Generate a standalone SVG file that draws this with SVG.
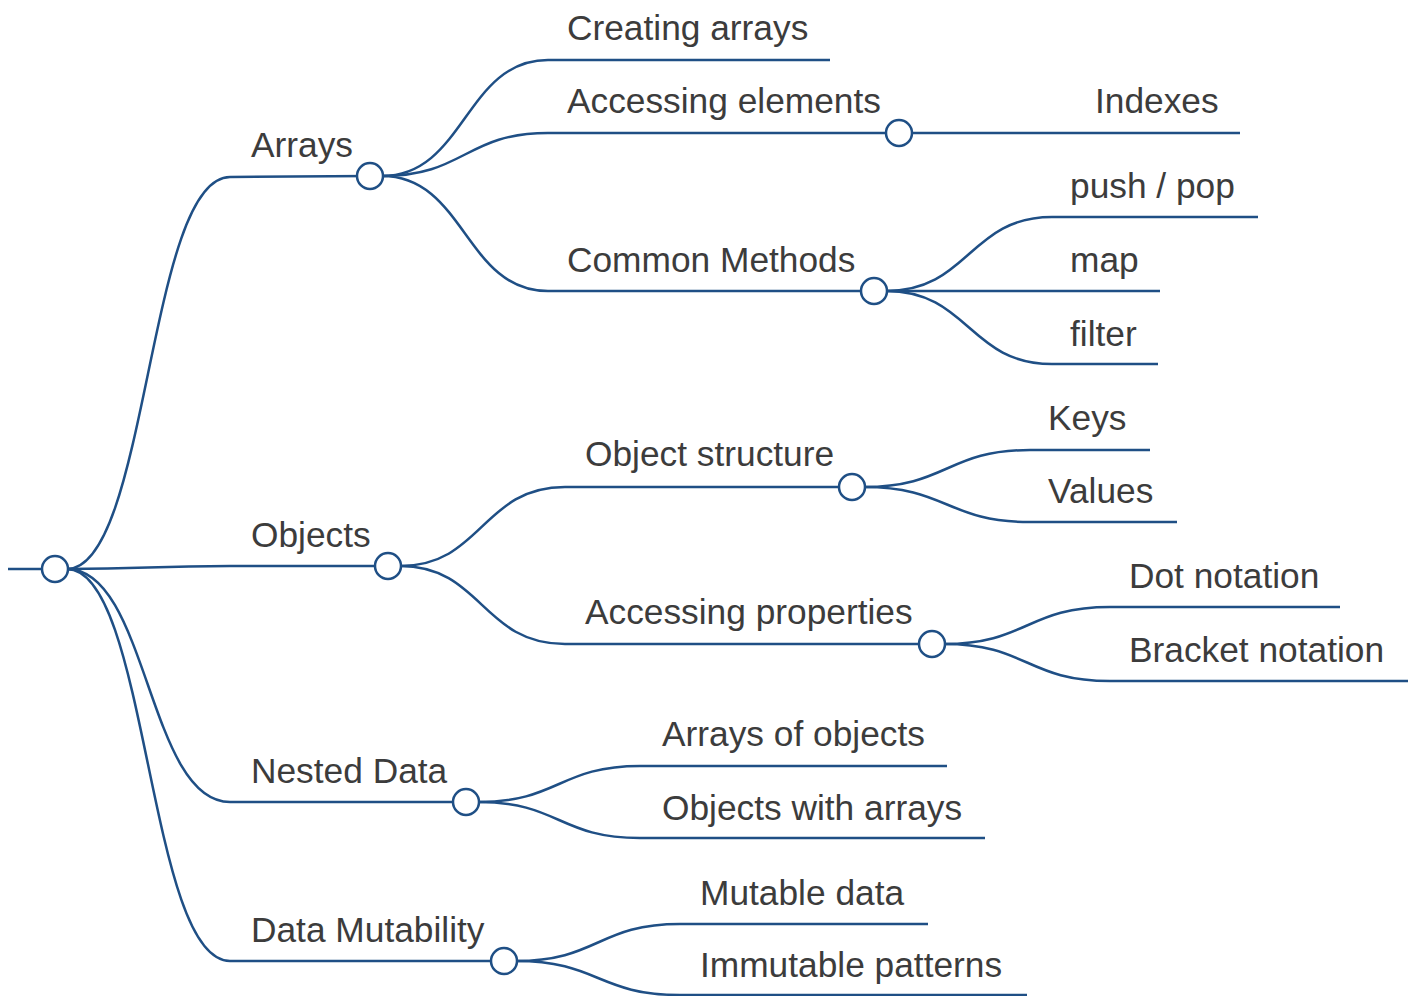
<svg xmlns="http://www.w3.org/2000/svg" width="1418" height="996" viewBox="0 0 1418 996">
  <style>
    .link { fill: none; stroke: #1f4f85; stroke-width: 2.5; }
    .line { fill: none; stroke: #1f4f85; stroke-width: 2.5; }
    .dot { fill: #ffffff; stroke: #1f4f85; stroke-width: 2.5; }
    .label { font-family: "Liberation Sans", Arial, sans-serif; font-size: 35.3px; fill: #3c3c3c; }
  </style>
  <rect width="1418" height="996" fill="#ffffff"/>

  <!-- connectors between parent dots and child underlines -->
  <g id="connectors">
    <!-- root -> level 1 -->
    <path class="link" d="M67 569 C148 569 148 177 230 177"/>
    <path class="link" d="M67 569 C148 569 148 566 230 566"/>
    <path class="link" d="M67 569 C148 569 148 802 230 802"/>
    <path class="link" d="M67 569 C148 569 148 961 230 961"/>
    <!-- Arrays -> children -->
    <path class="link" d="M382 176 C465 176 465 60 548 60"/>
    <path class="link" d="M382 176 C465 176 465 133 548 133"/>
    <path class="link" d="M382 176 C465 176 465 291 548 291"/>
    <!-- Accessing elements -> Indexes -->
    <path class="link" d="M911 133 C993 133 993 133 1076 133"/>
    <!-- Common Methods -> children -->
    <path class="link" d="M886 291 C969 291 969 217 1052 217"/>
    <path class="link" d="M886 291 C969 291 969 291 1052 291"/>
    <path class="link" d="M886 291 C969 291 969 364 1052 364"/>
    <!-- Objects -> children -->
    <path class="link" d="M400 566 C482 566 482 487 565 487"/>
    <path class="link" d="M400 566 C482 566 482 644 565 644"/>
    <!-- Object structure -> children -->
    <path class="link" d="M864 487 C947 487 947 450 1030 450"/>
    <path class="link" d="M864 487 C947 487 947 522 1030 522"/>
    <!-- Accessing properties -> children -->
    <path class="link" d="M944 644 C1027 644 1027 607 1110 607"/>
    <path class="link" d="M944 644 C1027 644 1027 681 1110 681"/>
    <!-- Nested Data -> children -->
    <path class="link" d="M478 802 C559 802 559 766 640 766"/>
    <path class="link" d="M478 802 C559 802 559 838 640 838"/>
    <!-- Data Mutability -> children -->
    <path class="link" d="M516 961 C598 961 598 924 680 924"/>
    <path class="link" d="M516 961 C598 961 598 995 680 995"/>
  </g>

  <g id="node-root">
    <line class="line" x1="8" y1="569" x2="55" y2="569"/>
    <circle class="dot" cx="55" cy="569" r="13"/>
  </g>

  <g id="node-arrays">
    <line class="line" x1="230" y1="177" x2="370" y2="176"/>
    <text class="label" x="251" y="157">Arrays</text>
    <circle class="dot" cx="370" cy="176" r="13"/>
  </g>
  <g id="node-creating-arrays">
    <line class="line" x1="548" y1="60" x2="830" y2="60"/>
    <text class="label" x="567" y="40">Creating arrays</text>
  </g>
  <g id="node-accessing-elements">
    <line class="line" x1="548" y1="133" x2="899" y2="133"/>
    <text class="label" x="567" y="113">Accessing elements</text>
    <circle class="dot" cx="899" cy="133" r="13"/>
  </g>
  <g id="node-indexes">
    <line class="line" x1="1076" y1="133" x2="1240" y2="133"/>
    <text class="label" x="1095" y="113">Indexes</text>
  </g>
  <g id="node-common-methods">
    <line class="line" x1="548" y1="291" x2="874" y2="291"/>
    <text class="label" x="567" y="272">Common Methods</text>
    <circle class="dot" cx="874" cy="291" r="13"/>
  </g>
  <g id="node-push-pop">
    <line class="line" x1="1052" y1="217" x2="1258" y2="217"/>
    <text class="label" x="1070" y="198">push / pop</text>
  </g>
  <g id="node-map">
    <line class="line" x1="1052" y1="291" x2="1160" y2="291"/>
    <text class="label" x="1070" y="272">map</text>
  </g>
  <g id="node-filter">
    <line class="line" x1="1052" y1="364" x2="1158" y2="364"/>
    <text class="label" x="1070" y="346">filter</text>
  </g>

  <g id="node-objects">
    <line class="line" x1="230" y1="566" x2="388" y2="566"/>
    <text class="label" x="251" y="547">Objects</text>
    <circle class="dot" cx="388" cy="566" r="13"/>
  </g>
  <g id="node-object-structure">
    <line class="line" x1="565" y1="487" x2="852" y2="487"/>
    <text class="label" x="585" y="466">Object structure</text>
    <circle class="dot" cx="852" cy="487" r="13"/>
  </g>
  <g id="node-keys">
    <line class="line" x1="1030" y1="450" x2="1150" y2="450"/>
    <text class="label" x="1048" y="430">Keys</text>
  </g>
  <g id="node-values">
    <line class="line" x1="1030" y1="522" x2="1177" y2="522"/>
    <text class="label" x="1048" y="503">Values</text>
  </g>
  <g id="node-accessing-properties">
    <line class="line" x1="565" y1="644" x2="932" y2="644"/>
    <text class="label" x="585" y="624">Accessing properties</text>
    <circle class="dot" cx="932" cy="644" r="13"/>
  </g>
  <g id="node-dot-notation">
    <line class="line" x1="1110" y1="607" x2="1340" y2="607"/>
    <text class="label" x="1129" y="588">Dot notation</text>
  </g>
  <g id="node-bracket-notation">
    <line class="line" x1="1110" y1="681" x2="1408" y2="681"/>
    <text class="label" x="1129" y="662">Bracket notation</text>
  </g>

  <g id="node-nested-data">
    <line class="line" x1="230" y1="802" x2="466" y2="802"/>
    <text class="label" x="251" y="783">Nested Data</text>
    <circle class="dot" cx="466" cy="802" r="13"/>
  </g>
  <g id="node-arrays-of-objects">
    <line class="line" x1="640" y1="766" x2="947" y2="766"/>
    <text class="label" x="662" y="746">Arrays of objects</text>
  </g>
  <g id="node-objects-with-arrays">
    <line class="line" x1="640" y1="838" x2="985" y2="838"/>
    <text class="label" x="662" y="820">Objects with arrays</text>
  </g>

  <g id="node-data-mutability">
    <line class="line" x1="230" y1="961" x2="504" y2="961"/>
    <text class="label" x="251" y="942">Data Mutability</text>
    <circle class="dot" cx="504" cy="961" r="13"/>
  </g>
  <g id="node-mutable-data">
    <line class="line" x1="680" y1="924" x2="928" y2="924"/>
    <text class="label" x="700" y="905">Mutable data</text>
  </g>
  <g id="node-immutable-patterns">
    <line class="line" x1="680" y1="995" x2="1027" y2="995"/>
    <text class="label" x="700" y="977">Immutable patterns</text>
  </g>
</svg>
